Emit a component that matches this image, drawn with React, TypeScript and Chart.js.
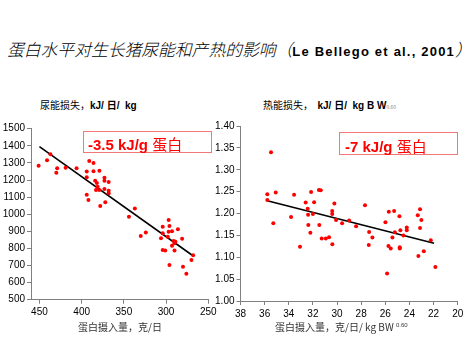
import React, { useEffect, useRef } from "react";
import { Chart, registerables } from "chart.js";

Chart.register(...registerables);

// ---- Data ----
const titleText = "蛋白水平对生长猪尿能和产热的影响";
const titleRef = "Le Bellego et al., 2001";

// Left chart: urinary energy loss vs protein intake (g/d)
const leftProteinIntake = [
  451, 441, 437, 430, 429, 419, 406, 391, 386, 394, 386, 379, 394, 384, 373, 373, 368, 382, 381, 383, 379, 368, 368, 394, 373, 392, 378, 372,
  344, 337, 330, 324, 304, 297, 296, 297, 293, 286, 304, 306, 298, 291, 289, 290, 293, 281, 304, 301, 290, 268, 270, 296, 280, 276,
];
const leftUrinaryEnergy = [
  1284, 1315, 1350, 1243, 1268, 1272, 1268, 1311, 1299, 1249, 1251, 1254, 1216, 1196, 1213, 1196, 1188, 1182, 1161, 1141, 1141, 1137, 1122, 1114, 1147, 1083, 1048, 1070,
  985, 1034, 873, 893, 927, 966, 931, 898, 900, 912, 888, 859, 868, 843, 839, 830, 816, 857, 791, 787, 787, 760, 732, 703, 693, 652,
];
const leftFitX = [450, 269];
const leftFitY = [1395, 760];

// Right chart: heat production vs protein intake (g/d/kg BW^0.60)
const rightProteinIntake = [
  35.47, 35.78, 35.08, 35.78, 33.56, 32.15, 31.5, 31.35, 32.6, 31.9, 32.43, 32.0, 32.4, 30.22, 30.4, 30.4, 33.81, 35.28, 32.38, 31.47,
  30.08, 29.0, 29.58, 28.42, 27.68, 32.21, 31.27, 30.93, 30.66, 30.39, 33.07, 27.34, 27.07, 27.37, 25.71, 25.27, 25.99, 24.83, 25.21,
  24.75, 25.41, 25.74, 25.55, 24.8, 24.8, 24.5, 24.22, 24.22, 23.31, 23.12, 23.01, 23.12, 23.26, 22.81, 22.23, 25.85, 21.85,
];
const rightHeatLoss = [
  1.34, 1.244, 1.248, 1.231, 1.243, 1.249, 1.254, 1.253, 1.225, 1.226, 1.211, 1.199, 1.197, 1.223, 1.206, 1.199, 1.192, 1.178, 1.174, 1.174,
  1.185, 1.184, 1.178, 1.171, 1.219, 1.156, 1.143, 1.143, 1.146, 1.13, 1.124, 1.158, 1.145, 1.128, 1.204, 1.206, 1.18, 1.194, 1.157,
  1.162, 1.145, 1.126, 1.12, 1.123, 1.12, 1.15, 1.168, 1.162, 1.196, 1.21, 1.185, 1.167, 1.103, 1.114, 1.139, 1.063, 1.078,
];
const rightFitX = [35.78, 21.96];
const rightFitY = [1.229, 1.132];

const leftYTitleCn = "尿能损失，";
const leftYTitleUnit = "kJ/ 日/  kg";
const rightYTitleCn = "热能损失，  ";
const rightYTitleUnit = "kJ/ 日/  kg B W";
const leftXTitle = "蛋白摄入量，克/日";
const rightXTitle = "蛋白摄入量，克/日/ kg BW ";
const leftSlope = "-3.5 kJ/g";
const rightSlope = "-7 kJ/g";
const slopeUnit = "蛋白";

const FONT = "'Liberation Sans', Arial, 'Noto Sans CJK SC', sans-serif";
const CJK = "'Noto Sans CJK SC', 'Liberation Sans', sans-serif";

function pts(xs: number[], ys: number[]) {
  return xs.map((x, i) => ({ x, y: ys[i] }));
}

type Cfg = {
  xs: number[];
  ys: number[];
  fx: number[];
  fy: number[];
  xMin: number;
  xMax: number;
  xStep: number;
  yMin: number;
  yMax: number;
  yStep: number;
  yDigits: number;
  yAxisWidth: number;
  xAxisHeight: number;
  padTop: number;
  padRight: number;
};

function ScatterChart(props: { cfg: Cfg; style: React.CSSProperties; width: number; height: number }) {
  const ref = useRef<HTMLCanvasElement>(null);
  useEffect(() => {
    const c = props.cfg;
    const axisColor = "#808080";
    const chart = new Chart(ref.current!, {
      type: "scatter",
      data: {
        datasets: [
          {
            data: pts(c.xs, c.ys),
            backgroundColor: "#ff0000",
            borderColor: "#ff0000",
            pointRadius: 2,
            pointBorderWidth: 0,
          },
          {
            data: pts(c.fx, c.fy),
            showLine: true,
            borderColor: "#000000",
            borderWidth: 1.6,
            pointRadius: 0,
          },
        ],
      },
      options: {
        animation: false,
        responsive: false,
        layout: { padding: { top: c.padTop, right: c.padRight, left: 0, bottom: 0 } },
        plugins: { legend: { display: false }, tooltip: { enabled: false }, title: { display: false } },
        scales: {
          x: {
            type: "linear",
            min: c.xMin,
            max: c.xMax,
            reverse: true,
            afterFit: (s: any) => {
              s.height = c.xAxisHeight;
            },
            grid: { drawOnChartArea: false, drawTicks: true, tickLength: 4, color: axisColor },
            border: { color: axisColor, width: 1 },
            ticks: {
              stepSize: c.xStep,
              includeBounds: false,
              padding: 3,
              color: "#000",
              font: { family: FONT, size: 10 },
              maxRotation: 0,
            } as any,
          },
          y: {
            type: "linear",
            min: c.yMin,
            max: c.yMax,
            afterFit: (s: any) => {
              s.width = c.yAxisWidth;
            },
            grid: { drawOnChartArea: false, drawTicks: true, tickLength: 4, color: axisColor },
            border: { color: axisColor, width: 1 },
            ticks: {
              stepSize: c.yStep,
              padding: 2,
              color: "#000",
              font: { family: FONT, size: 10 },
              callback: (v: any) => Number(v).toFixed(c.yDigits),
            },
          },
        },
      },
    });
    return () => chart.destroy();
  }, []);
  return <canvas ref={ref} width={props.width} height={props.height} style={props.style} />;
}

const abs = (l: number, t: number, extra: React.CSSProperties = {}): React.CSSProperties => ({
  position: "absolute",
  left: l,
  top: t,
  whiteSpace: "pre",
  lineHeight: 1,
  ...extra,
});

export default function App() {
  const leftCfg: Cfg = {
    xs: leftProteinIntake,
    ys: leftUrinaryEnergy,
    fx: leftFitX,
    fy: leftFitY,
    xMin: 250,
    xMax: 460,
    xStep: 50,
    yMin: 500,
    yMax: 1500,
    yStep: 100,
    yDigits: 0,
    yAxisWidth: 31,
    xAxisHeight: 22.3,
    padTop: 10.7,
    padRight: 15.7,
  };
  const rightCfg: Cfg = {
    xs: rightProteinIntake,
    ys: rightHeatLoss,
    fx: rightFitX,
    fy: rightFitY,
    xMin: 20,
    xMax: 38,
    xStep: 2,
    yMin: 1.0,
    yMax: 1.4,
    yStep: 0.05,
    yDigits: 2,
    yAxisWidth: 40.5,
    xAxisHeight: 21,
    padTop: 8,
    padRight: 9.3,
  };
  const unitStyle: React.CSSProperties = { fontFamily: FONT, fontWeight: "bold", fontSize: 10 };
  return (
    <div style={{ position: "absolute", left: 0, top: 0, width: 467, height: 350, background: "#fff", overflow: "hidden" }}>
      <div style={abs(7, 41, { fontFamily: CJK, fontSize: 16.8, fontStyle: "italic", fontWeight: 300, color: "#000" })}>
        {titleText}
        {"（"}
        <span style={{ fontFamily: FONT, fontWeight: "bold", fontStyle: "normal", fontSize: 13, letterSpacing: 1.2 }}>{titleRef}</span>
        {"）"}
      </div>

      <div style={abs(40, 100, { fontFamily: CJK, fontSize: 10, color: "#000" })}>
        {leftYTitleCn}
        <span style={unitStyle}>{leftYTitleUnit}</span>
      </div>
      <div style={abs(263, 100, { fontFamily: CJK, fontSize: 10, color: "#000" })}>
        {rightYTitleCn}
        <span style={unitStyle}>{rightYTitleUnit}</span>
        <span style={{ fontSize: 5, color: "#888" }}>0.60</span>
      </div>

      <ScatterChart cfg={leftCfg} width={224} height={204} style={{ position: "absolute", left: 0, top: 118 }} />
      <ScatterChart cfg={rightCfg} width={267} height={204} style={{ position: "absolute", left: 200, top: 118 }} />

      <div
        style={abs(82.5, 131, {
          width: 129,
          height: 22,
          border: "1px solid #f07878",
          boxSizing: "border-box",
        })}
      />
      <div style={abs(88, 136, { color: "#ff0000", fontSize: 15 })}>
        <span style={{ fontFamily: FONT, fontWeight: "bold" }}>{leftSlope} </span>
        <span style={{ fontFamily: CJK }}>{slopeUnit}</span>
      </div>

      <div
        style={abs(339, 132, {
          width: 119,
          height: 23,
          border: "1px solid #f07878",
          boxSizing: "border-box",
        })}
      />
      <div style={abs(345, 138, { color: "#ff0000", fontSize: 15 })}>
        <span style={{ fontFamily: FONT, fontWeight: "bold" }}>{rightSlope} </span>
        <span style={{ fontFamily: CJK }}>{slopeUnit}</span>
      </div>

      <div style={abs(78, 322, { fontFamily: CJK, fontSize: 10, color: "#333" })}>{leftXTitle}</div>
      <div style={abs(275, 322, { fontFamily: CJK, fontSize: 10, color: "#333" })}>
        {rightXTitle}
        <span style={{ fontFamily: FONT, fontSize: 6, verticalAlign: "4px" }}>0.60</span>
      </div>
    </div>
  );
}
